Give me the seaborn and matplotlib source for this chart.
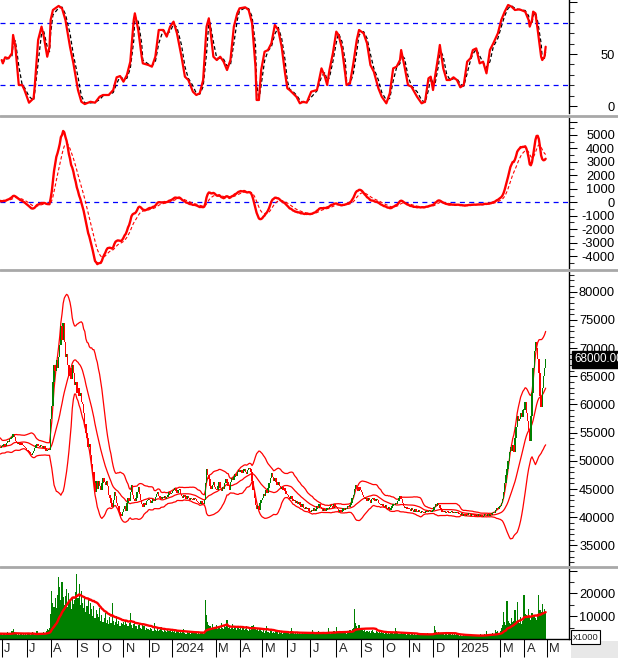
import numpy as np
import pandas as pd
import matplotlib
matplotlib.use("Agg")
import matplotlib.pyplot as plt
import matplotlib.transforms as mtransforms
from matplotlib.lines import Line2D
from matplotlib.patches import Rectangle
from matplotlib.ticker import MultipleLocator
import seaborn as sns

# --- data (daily closes / volumes, volume in x1000) ---
# a few sessions before June 2023 so the 20-day bands and MACD exist at the left edge
warm_close = [51500, 52000, 52800, 53500, 52900, 52300, 51800, 52400, 53000, 53600,
              54200, 53500, 52800, 52200, 51600, 52100, 52700, 53300, 52600, 52000,
              51400, 51900, 52500, 53100, 53700, 53200, 52600, 52200, 52500, 52300]
warm_vol = [2500, 2200, 2800, 2000, 2400, 2600, 2100, 2300, 2900, 2200,
            2500, 2000, 2700, 2300, 2100, 2600, 2400, 2000, 2800, 2200,
            2500, 2100, 2300, 2700, 2000, 2400, 2200, 2600, 2100, 2300]

close_2023 = [
    # Jun
    52600, 52800, 53000, 52700, 53200, 53500, 53300, 53800, 54000, 54300, 54800,
    54200, 53600, 53400, 53000, 53200, 52800, 53100, 52900, 52700, 52500, 52200,
    # Jul
    52000, 51800, 51500, 51200, 51000, 51400, 51700, 52200, 52800, 53000, 52600,
    52400, 52900, 52700, 52300, 52600, 52200, 51800, 51900, 52100, 52000,
    # Aug
    57500, 59800, 64000, 67000, 66000, 67800, 66500, 68500, 70500, 74000, 71500,
    74500, 71000, 68500, 69000, 67000, 65000, 66500, 64500, 67000, 65500, 63500, 64000,
    # Sep
    62000, 63000, 61500, 62000, 60500, 60000, 58500, 56500, 55000, 54000, 52500,
    53000, 51000, 49500, 48000, 46000, 44500, 46500, 45000,
    # Oct
    46500, 45500, 44800, 46000, 47000, 46300, 45800, 46500, 45500, 44000, 43500,
    42500, 41800, 43000, 44500, 43800, 42500, 42000, 41000, 40500, 40200, 41000,
    # Nov
    41500, 42000, 41200, 42500, 43500, 42800, 44500, 45800, 44000, 43200, 42800,
    43500, 44500, 45300, 44200, 43000, 42300, 41800, 42500, 42200, 42800, 43000,
    # Dec
    43200, 43000, 42600, 42900, 43300, 42800, 43600, 44200, 44500, 43800, 43500,
    43200, 43600, 43400, 43800, 43300, 43600, 44000, 44400, 44100, 44300,
]
close_2024 = [
    # Jan
    44600, 44900, 45200, 44700, 44300, 44800, 45000, 44200, 43800, 43500, 43900,
    43600, 43200, 43700, 43400, 43100, 43500, 43300, 43000, 43400, 43200, 42900,
    # Feb
    42700, 42500, 42300, 42800, 42600, 42400, 43000, 46000, 48500, 47500, 46800,
    45500, 45000, 45800, 46200, 45400,
    # Mar
    45000, 44800, 45500, 46300, 45200, 44600, 45300, 45000, 46000, 46800, 46200,
    45600, 44900, 46300, 47000, 46600, 47200, 47600, 47300, 48000, 48300,
    # Apr
    48000, 48400, 47800, 48200, 48600, 48100, 47700, 48300, 48800, 48500, 48000,
    46500, 44800, 43500, 42200, 41500, 42000, 41300, 42500, 43000,
    # May
    43500, 44200, 43800, 44800, 44300, 45200, 46000, 47000, 47800, 47200, 46500,
    47000, 46300, 45800, 46200, 45500, 45000, 45300, 44800, 45200, 44600, 44200,
    # Jun
    44000, 43600, 43200, 43800, 43300, 42800, 43100, 42600, 42900, 42400, 42700,
    42200, 41800, 42300, 41700, 41500, 41900, 41400, 41600, 41200,
    # Jul
    41000, 41300, 41100, 41600, 41200, 41500, 42000, 41700, 42300, 41800, 41400,
    41200, 41500, 41100, 41300, 41600, 41400, 41800, 42200, 42000, 41600, 42300, 41900,
    # Aug
    41800, 41400, 41000, 41300, 40900, 41200, 41600, 41300, 41700, 41500, 42000,
    41800, 42200, 42600, 43500, 44000, 45000, 45800, 45300, 44700, 45400, 44800,
    # Sep
    44500, 44000, 43600, 43200, 43500, 42800, 43400, 43000, 42600, 43200, 43500,
    43100, 42800, 43300, 43000, 42600, 42400, 42100, 42300,
    # Oct
    42000, 41800, 42200, 41600, 41400, 41800, 41300, 41600, 42000, 42400, 42100,
    42600, 42300, 42800, 43500, 43800, 43200, 42500, 42000, 41700, 41900, 41500, 41700,
    # Nov
    41500, 41200, 41600, 41300, 41000, 41400, 41200, 40900, 41300, 41000, 40800,
    41100, 40900, 40700, 41000, 41200, 40900, 41100, 41300, 41000, 41200,
    # Dec
    41300, 41800, 42300, 42000, 42600, 42200, 41700, 41300, 41000, 40900, 41100,
    40800, 41000, 40900, 40700, 40900, 41100, 40800, 40900, 40700, 40800, 40900,
]
close_2025 = [
    # Jan
    40800, 40600, 40400, 40700, 40300, 40500, 40200, 40600, 40400, 40700, 40500,
    40300, 40600, 40400, 40500, 40200, 40400,
    # Feb
    40300, 40500, 40200, 40400, 40100, 40300, 40600, 40400, 40200, 40500, 40300,
    40600, 40400, 40800, 41000, 40800, 41300, 41600, 41400, 41900,
    # Mar
    42000, 42500, 43200, 44500, 46000, 47500, 48500, 50000, 51500, 52500, 51800,
    52800, 51500, 54000, 56000, 58000, 57000, 57500, 58500, 57800, 59000,
    # Apr
    59000, 60500, 58500, 57000, 55500, 53500, 58000, 62000, 66500, 69500, 71000,
    70000, 68000, 65500, 61500, 59500, 63000, 65000, 66500, 68000,
]

vol_2023 = [
    2200, 1800, 2500, 1600, 2100, 3000, 2400, 1900, 2800, 3500, 4500,
    3200, 2600, 2000, 1700, 2300, 1900, 2100, 1600, 2400, 1800, 2000,
    1900, 2600, 2200, 1700, 2400, 3200, 2100, 1800, 2500, 3400, 2300,
    1900, 2700, 2000, 2400, 3000, 2600, 3300, 4200, 3800, 5000,
    11000, 21000, 16000, 14000, 18000, 13500, 19500, 27000, 23000, 17000, 25000,
    18500, 15000, 19000, 22000, 14000, 20000, 16500, 13000, 18000, 15500, 17000, 20500,
    28500, 18000, 24000, 15000, 21000, 16000, 13500, 19000, 12000, 14500, 17000,
    11000, 16000, 13000, 10000, 14500, 9000, 12500, 11000,
    9500, 13500, 8000, 10500, 7500, 9000, 11500, 7000, 8500, 6500, 9500,
    7000, 16000, 8000, 6000, 7500, 10000, 6500, 8000, 5500, 7000, 6500,
    7500, 6000, 8500, 6500, 5500, 7000, 11500, 6000, 5000, 6500, 8000,
    5500, 4500, 6000, 7000, 5000, 4500, 6000, 5500, 4000, 5000, 4500,
    4500, 3800, 5000, 4200, 3500, 7000, 4000, 3600, 4800, 3300, 4000,
    5200, 3500, 3000, 4200, 3700, 3200, 4500, 3400, 3800, 3000,
]
vol_2024 = [
    3600, 2900, 3300, 2600, 3800, 3100, 2700, 3400, 2500, 3000, 4200,
    2800, 2400, 3200, 2700, 3500, 2300, 2900, 2600, 3300, 2500, 2800,
    2400, 2700, 2100, 2500, 2900, 2200, 2600, 17000, 10500, 7500, 6000,
    5500, 4800, 6500, 4500, 5200,
    4800, 6000, 4200, 5500, 4600, 7000, 5000, 4400, 6200, 5300, 8400,
    4700, 5800, 4300, 5000, 6500, 4500, 5200, 4000, 5600, 4800,
    4500, 5200, 4000, 4800, 3800, 4300, 5800, 4100, 3600, 4600, 4000,
    5500, 6200, 5000, 4400, 3900, 4700, 3500, 4200, 3700,
    3200, 4000, 2800, 3500, 5500, 3000, 2600, 3800, 3300, 2700, 3100,
    2500, 3600, 2900, 2400, 3000, 2600, 3400, 2300, 2800, 2500, 3100,
    2600, 2900, 2200, 3400, 4800, 2500, 2100, 2800, 2400, 3000, 2000,
    2600, 2300, 2900, 2100, 2500, 2700, 2200, 3100, 2400,
    2300, 2800, 4000, 2500, 2100, 2900, 2400, 3300, 2600, 2200, 2700,
    3100, 2500, 2000, 2600, 2300, 5000, 2800, 2400, 3000, 2700, 3500, 2900,
    5300, 3200, 2800, 3600, 2500, 3100, 2700, 3300, 2900, 2400, 3500,
    3000, 3800, 3300, 4500, 5000, 13000, 7000, 5500, 4800, 6000, 4200,
    4400, 3800, 3400, 4000, 3200, 3600, 3000, 3500, 2800, 3300, 3900,
    3100, 2700, 3400, 2900, 2600, 3200, 2800, 3000,
    2700, 2400, 3000, 2500, 2200, 2800, 2300, 2600, 3100, 2400, 2900,
    5000, 3300, 2700, 2400, 2100, 2600, 2300, 2000, 2500, 2200, 1900, 2400,
    2100, 1800, 2400, 2000, 1700, 2200, 1900, 2600, 1800, 2100, 1600,
    2300, 2000, 1700, 2200, 1900, 2500, 1800, 2000, 2300, 1900,
    2400, 5800, 4000, 3200, 2600, 3000, 2400, 2100, 2700, 2200, 1900,
    2500, 2100, 1800, 2300, 2000, 1700, 2200, 1900, 2100, 1800, 2000,
]
vol_2025 = [
    1600, 1300, 1800, 1400, 1200, 1700, 1500, 1100, 1600, 1300, 2000,
    1400, 1200, 1700, 1500, 1300, 1600,
    1500, 1800, 1400, 2000, 1600, 1300, 2200, 1700, 3500, 1900, 1500,
    2300, 1800, 2600, 2000, 2400, 3800, 2900, 3300, 2700,
    3500, 4800, 6000, 12000, 7500, 6000, 16600, 8000, 7000, 6500, 9000,
    7500, 8000, 12900, 7000, 16400, 8500, 7000, 9500, 6500, 8000,
    19200, 11000, 10500, 9500, 13000, 10000, 8500, 11500, 9500, 10500, 9000,
    8500, 10000, 19200, 12500, 12000, 15200, 11000, 13000, 11500,
]

# top oscillator (trading-day number from 1 Jun 2023, value)
osc_day = [0, 1, 3, 6, 9, 10, 12, 15, 18, 20, 24, 28, 29, 32, 35, 37, 40, 42, 43, 45,
           50, 53, 56, 60, 63, 67, 70, 73, 78, 82, 86, 89, 94, 98, 101, 104, 107, 110,
           113, 116, 117, 120, 123, 124, 129, 132, 135, 138, 142, 145, 148, 151, 154,
           158, 161, 164, 168, 171, 174, 177, 180, 182, 183, 186, 189, 192, 195, 198,
           201, 204, 207, 209, 214, 217, 220, 223, 224, 226, 228, 231, 234, 237, 240,
           243, 246, 249, 251, 253, 256, 259, 262, 265, 268, 272, 277, 278, 281, 284,
           286, 288, 291, 294, 296, 299, 302, 303, 306, 309, 312, 314, 318, 321, 324,
           327, 331, 334, 338, 341, 344, 347, 350, 351, 354, 357, 360, 365, 369, 372,
           375, 377, 379, 381, 384, 385, 388, 391, 394, 397, 400, 403, 406, 409, 412,
           414, 417, 420, 423, 426, 429, 432, 436, 439, 442, 445, 448, 451, 455, 460,
           463, 464, 466, 467, 469, 471, 474, 475, 477, 478]
osc_val = [44.2, 41, 46.8, 45.8, 50.7, 68.3, 57, 20.2, 20.2, 15.4, 3.2, 7.4, 18.6, 63.5,
           76.3, 66.7, 47.4, 57, 82.7, 92.3, 96.2, 93.9, 82.7, 57, 41, 15.4, 4.1, 1.9,
           4.1, 3.2, 8.9, 10.6, 10.6, 15.4, 27.6, 28.8, 23.4, 29.8, 42.6, 82.7, 89.1,
           73.1, 47.4, 41, 39.4, 37.8, 47.4, 73.1, 73.1, 66.7, 76.3, 81.1, 69.9, 47.4,
           28.2, 25, 13.8, 10.6, 12.2, 25, 76.3, 84.3, 76.3, 47.4, 44.2, 47.4, 42.6,
           34.6, 44.2, 76.3, 89.1, 93.9, 94.9, 92.3, 79.5, 37.8, 5.8, 5.8, 34.6, 52.2,
           53.8, 60.3, 77.9, 73.1, 57, 31.4, 17, 15.4, 12.2, 8.9, 2.6, 4.1, 3.2, 13.8,
           15.4, 20.2, 36.2, 28.2, 20.2, 34.6, 50.6, 71.5, 68.3, 55.4, 29.8, 20.2, 21.8,
           41, 63.5, 73.1, 69.9, 60.3, 39.4, 33, 17, 8.9, 2.6, 12.2, 36.2, 37.8, 44.2,
           53.8, 37.8, 20.2, 18.6, 8.9, 2.6, 4.1, 26.6, 28.2, 15.4, 29.8, 50.6, 58.7,
           36.2, 25, 25, 27.6, 25, 18, 20.2, 42.6, 46, 53.8, 55.4, 41, 42.6, 31.4, 53.8,
           60.3, 69.9, 82.7, 90.7, 97.1, 95.5, 92.3, 92.9, 90.7, 82.7, 76.3, 82.7, 90.7,
           89.1, 73.1, 47.4, 44.2, 47.4, 57]

holidays = ["2023-09-01", "2023-09-04", "2024-01-01", "2024-02-08", "2024-02-09",
            "2024-02-12", "2024-02-13", "2024-02-14", "2024-04-18", "2024-04-30",
            "2024-05-01", "2024-09-02", "2024-09-03", "2025-01-01", "2025-01-27",
            "2025-01-28", "2025-01-29", "2025-01-30", "2025-01-31", "2025-04-07",
            "2025-04-30", "2025-05-01"]
last_price = 68000

# --- derived series ---
close = warm_close + close_2023 + close_2024 + close_2025
volume = warm_vol + vol_2023 + vol_2024 + vol_2025
n = min(len(close), len(volume))
day = np.arange(n) - len(warm_close)
px = pd.Series(close[:n], index=day, dtype=float)
vol = pd.Series(volume[:n], index=day, dtype=float)

mid = px.rolling(20).mean()
sd = px.rolling(20).std(ddof=0)
upper, lower = mid + 2 * sd, mid - 2 * sd
macd = px.ewm(span=12, adjust=False).mean() - px.ewm(span=26, adjust=False).mean()
macd_sig = macd.ewm(span=9, adjust=False).mean()
vol_ma = vol.rolling(20).mean()
opens = px.shift(1).fillna(px)
osc_sig = pd.Series(osc_val).rolling(2, min_periods=1).mean()

cal = pd.bdate_range("2023-06-01", "2025-05-31")
cal = cal[~cal.isin(pd.to_datetime(holidays))]
first_day = pd.Series(np.arange(len(cal)), index=cal).groupby([cal.year, cal.month]).first()

# --- figure ---
sns.set_style("white")
plt.rcParams["font.family"] = ["Liberation Sans", "DejaVu Sans"]
W, H = 618, 658
RED, GREEN, BLUE = "#ff0000", "#008000", "#0000ff"
fig = plt.figure(figsize=(W / 100, H / 100), dpi=100)


def panel(top, bottom):
    ax = fig.add_axes([0, 1 - bottom / H, 569 / W, (bottom - top) / H])
    ax.set_xlim(-1.5, 498.5)
    for s in ["left", "top", "bottom"]:
        ax.spines[s].set_visible(False)
    ax.spines["right"].set_color("black")
    ax.spines["right"].set_linewidth(1)
    ax.set_facecolor("white")
    ax.set_xticks([])
    ax.set_xlabel("")
    ax.set_ylabel("")
    return ax


def right_axis(ax, ticks, labels, minor):
    ax.yaxis.tick_right()
    ax.set_yticks(ticks)
    ax.set_yticklabels(labels)
    ax.yaxis.set_minor_locator(MultipleLocator(minor))
    ax.tick_params(axis="y", which="major", direction="out", length=5.8, width=0.75,
                   pad=27.4, labelsize=9.3, colors="black", right=True, left=False)
    ax.tick_params(axis="y", which="minor", direction="out", length=3.6, width=0.75,
                   right=True, left=False)
    for t in ax.yaxis.get_majorticklabels():
        t.set_horizontalalignment("right")


# oscillator
ax1 = panel(0, 113)
ax1.axhline(80, color=BLUE, lw=0.9, ls=(0, (4, 3.5)))
ax1.axhline(20, color=BLUE, lw=0.9, ls=(0, (4, 3.5)))
sns.lineplot(x=osc_day, y=osc_sig.values, ax=ax1, color="black", lw=0.9,
             linestyle=(0, (3, 2)), errorbar=None)
sns.lineplot(x=osc_day, y=osc_val, ax=ax1, color=RED, lw=1.6, errorbar=None)
ax1.set_ylim(-6.7, 101.9)
right_axis(ax1, [0, 50, 100], ["0", "50", ""], 10)

# MACD
ax2 = panel(118, 268)
ax2.axhline(0, color=BLUE, lw=0.9, ls=(0, (4, 3.5)))
sns.lineplot(x=day, y=macd_sig.values, ax=ax2, color=RED, lw=0.8,
             linestyle=(0, (3, 2)), errorbar=None)
sns.lineplot(x=day, y=macd.values, ax=ax2, color=RED, lw=1.7, errorbar=None)
ax2.set_ylim(-4882, 6263)
right_axis(ax2, list(range(-4000, 6001, 1000)),
           [str(v) for v in range(-4000, 5001, 1000)] + [""], 500)

# price with Bollinger bands
ax3 = panel(272, 565)
for band in (upper, mid, lower):
    sns.lineplot(x=day, y=band.values, ax=ax3, color=RED, lw=0.9, errorbar=None)
body = (px - opens).abs().clip(lower=180)
base = np.minimum(px, opens)
up = px >= opens
ax3.bar(day[up.values], body[up].values, bottom=base[up].values, width=1.25,
        color=GREEN, linewidth=0, zorder=3)
ax3.bar(day[~up.values], body[~up].values, bottom=base[~up].values, width=1.25,
        color=RED, linewidth=0, zorder=3)
ax3.set_ylim(31540, 83490)
right_axis(ax3, list(range(35000, 80001, 5000)),
           [str(v) for v in range(35000, 80001, 5000)], 1000)
tr3 = mtransforms.blended_transform_factory(ax3.transAxes, ax3.transData)
ax3.text(1.0095, last_price, f"{last_price:.2f}", transform=tr3, color="white",
         fontsize=8.4, ha="left", va="center", clip_on=False, zorder=10,
         bbox=dict(facecolor="black", edgecolor="black", pad=1.8))

# volume
ax4 = panel(569, 639)
ax4.bar(day, vol.values, width=1.0, color=GREEN, linewidth=0)
sns.lineplot(x=day, y=vol_ma.values, ax=ax4, color=RED, lw=1.7, errorbar=None)
ax4.set_ylim(0, 30700)
right_axis(ax4, [10000, 20000, 30000], ["10000", "20000", ""], 5000)
ax4.spines["bottom"].set_visible(True)
ax4.spines["bottom"].set_color("black")
ax4.spines["bottom"].set_linewidth(1)

# month axis
ticks, labels = [], []
for (yr, mo), d in first_day.items():
    if mo == 2 or d > 498:
        continue
    ticks.append(d)
    labels.append(str(yr) if mo == 1 else "JFMAMJJASOND"[mo - 1])
ax4.set_xticks(ticks)
ax4.set_xticklabels([])
ax4.tick_params(axis="x", which="major", direction="out", length=13, width=0.75,
                colors="black", bottom=True)
tr4 = mtransforms.blended_transform_factory(ax4.transData, ax4.transAxes)
for d, lab in zip(ticks, labels):
    ax4.text(d + 2.2, -0.145, lab, transform=tr4, fontsize=9.3, ha="left",
             va="center", clip_on=False)

# panel separators and corner boxes
for y in (116, 270, 566.5):
    fig.add_artist(Line2D([0, 1], [1 - y / H] * 2, color="#a8a8a8", lw=2.0))
fig.add_artist(Rectangle((571 / W, 0), 47 / W, 17 / H, transform=fig.transFigure,
                         facecolor="#e8e8e8", edgecolor="none"))
fig.text(585.5 / W, 1 - 637 / H, "x1000", ha="center", va="center", fontsize=6.8,
         bbox=dict(facecolor="white", edgecolor="black", linewidth=0.8, pad=1.5))

fig.savefig("out.png", dpi=100)
